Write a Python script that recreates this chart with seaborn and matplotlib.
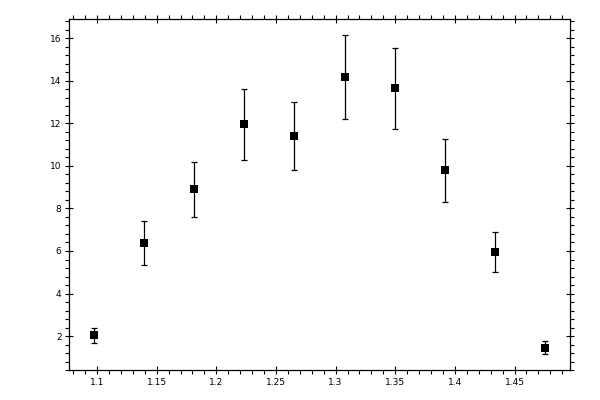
import matplotlib
matplotlib.use('Agg')
import matplotlib.pyplot as plt
import seaborn as sns
import pandas as pd
from matplotlib.ticker import MultipleLocator, FuncFormatter

x_vals = [1.0975, 1.1395, 1.1815, 1.2235, 1.2655, 1.3075, 1.3495, 1.3915, 1.4335, 1.4755]
y_vals = [2.03, 6.36, 8.90, 11.95, 11.39, 14.17, 13.65, 9.79, 5.93, 1.46]
y_err = [0.36, 1.04, 1.29, 1.67, 1.60, 1.96, 1.90, 1.48, 0.94, 0.29]


def main():
    df = pd.DataFrame({'x': x_vals, 'y': y_vals, 'err': y_err})

    sns.set_theme(style='white')
    plt.rcParams['font.family'] = ['DejaVu Sans']

    fig = plt.figure(figsize=(6, 4), dpi=100)
    ax = fig.add_axes([0.115, 0.074, 0.835, 0.878])

    ax.errorbar(df['x'], df['y'], yerr=df['err'], fmt='none', ecolor='black',
                elinewidth=0.9, capsize=1.9, capthick=0.9, zorder=2)
    sns.scatterplot(data=df, x='x', y='y', marker='s', color='black', s=36,
                    edgecolor='black', linewidth=0, ax=ax, zorder=3)

    ax.set_xlim(1.0765, 1.4965)
    ax.set_ylim(0.39, 16.89)
    ax.set_xlabel('')
    ax.set_ylabel('')

    ax.xaxis.set_major_locator(MultipleLocator(0.05))
    ax.xaxis.set_minor_locator(MultipleLocator(0.01))
    ax.yaxis.set_major_locator(MultipleLocator(2))
    ax.yaxis.set_minor_locator(MultipleLocator(0.4))
    fmt = FuncFormatter(lambda v, p: '%g' % round(v, 4))
    ax.xaxis.set_major_formatter(fmt)
    ax.yaxis.set_major_formatter(fmt)

    for s in ax.spines.values():
        s.set_color('black')
        s.set_linewidth(0.9)

    ax.tick_params(which='major', direction='inout', length=5.8, width=0.8,
                   color='black', labelsize=6.5, labelcolor='black',
                   top=True, right=True, bottom=True, left=True, pad=2.5)
    ax.tick_params(which='minor', direction='out', length=2.9, width=0.8,
                   color='black', top=True, right=True, bottom=True, left=True)

    fig.savefig('out.png', dpi=100)
    plt.close(fig)


if __name__ == "__main__":
    main()
